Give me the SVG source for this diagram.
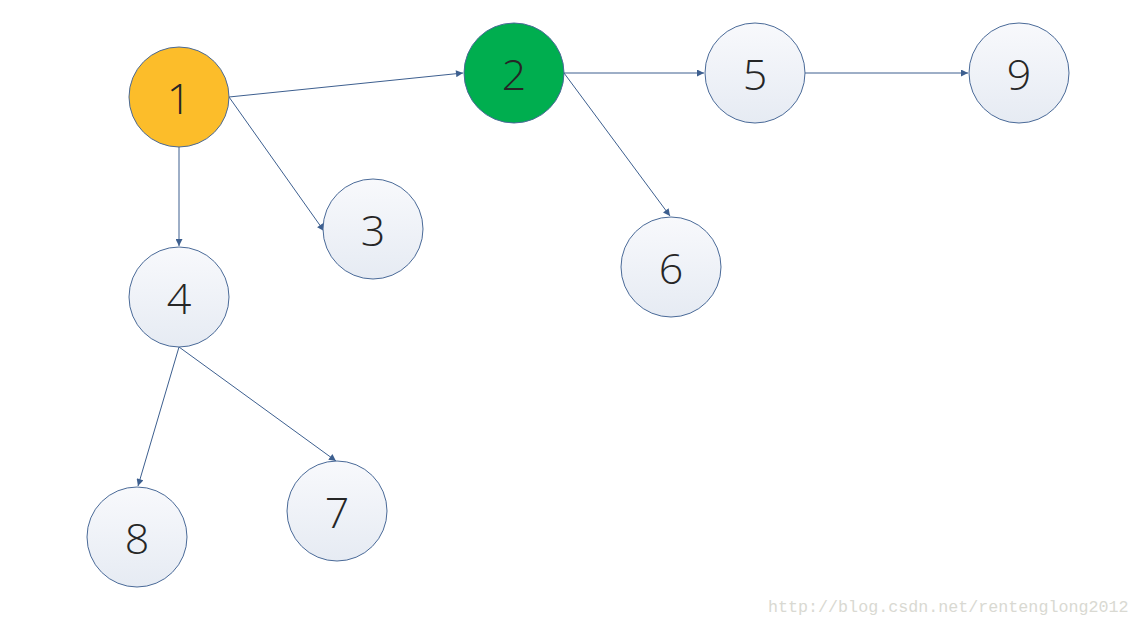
<svg xmlns="http://www.w3.org/2000/svg" width="1139" height="627" viewBox="0 0 1139 627">
<style>
.node circle{stroke:#4a6a98;stroke-width:1}
.plain circle{fill:url(#g)}
.node text{font-family:"Open Sans","Noto Sans",sans-serif;font-weight:300;font-size:43px;fill:#262626;text-anchor:middle;dominant-baseline:central}
#edges line{stroke:#3d5f8f;stroke-width:1;marker-end:url(#ah)}
.wm{font-family:"Liberation Mono",monospace;font-size:16.7px;fill:#d9d9d2}
</style>
<defs>
<linearGradient id="g" x1="0" y1="0" x2="0" y2="1">
<stop offset="0" stop-color="#f8f9fc"/>
<stop offset="1" stop-color="#e6ebf3"/>
</linearGradient>
<marker id="ah" viewBox="0 0 10 10" refX="10" refY="5" markerWidth="8" markerHeight="7" markerUnits="userSpaceOnUse" orient="auto">
<path d="M0,0 L10,5 L0,10 z" fill="#3d5f8f"/>
</marker>
</defs>
<rect width="1139" height="627" fill="#ffffff"/>
<g id="edges">
<line x1="229" y1="97" x2="463" y2="73"/>
<line x1="229" y1="97" x2="324" y2="231"/>
<line x1="179" y1="147" x2="179" y2="246"/>
<line x1="564" y1="73" x2="704" y2="73"/>
<line x1="564" y1="73" x2="670" y2="216"/>
<line x1="805" y1="73" x2="968" y2="73"/>
<line x1="179" y1="347" x2="138" y2="486"/>
<line x1="179" y1="347" x2="336" y2="461"/>
</g>
<g id="n1" class="node"><circle cx="179" cy="97" r="50" fill="#fcbd2a" stroke="#7a7a7a"/><text x="179" y="97">1</text></g>
<g id="n2" class="node"><circle cx="514" cy="73" r="50" fill="#00ae4f"/><text x="514" y="73">2</text></g>
<g id="n5" class="node plain"><circle cx="755" cy="73" r="50"/><text x="755" y="73">5</text></g>
<g id="n9" class="node plain"><circle cx="1019" cy="73" r="50"/><text x="1019" y="73">9</text></g>
<g id="n3" class="node plain"><circle cx="373" cy="229" r="50"/><text x="373" y="229">3</text></g>
<g id="n6" class="node plain"><circle cx="671" cy="267" r="50"/><text x="671" y="267">6</text></g>
<g id="n4" class="node plain"><circle cx="179" cy="297" r="50"/><text x="179" y="297">4</text></g>
<g id="n7" class="node plain"><circle cx="337" cy="511" r="50"/><text x="337" y="511">7</text></g>
<g id="n8" class="node plain"><circle cx="137" cy="537" r="50"/><text x="137" y="537">8</text></g>
<text class="wm" x="768" y="612">http://blog.csdn.net/rentenglong2012</text>
</svg>
